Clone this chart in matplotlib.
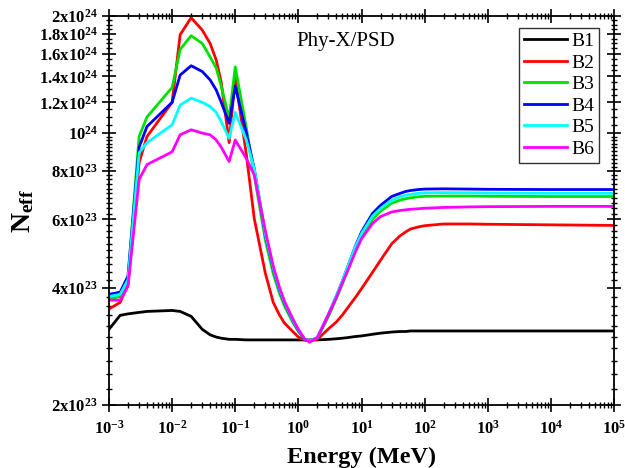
import matplotlib
matplotlib.use("Agg")
import matplotlib.pyplot as plt
from matplotlib.ticker import FixedLocator, NullFormatter, LogLocator
import numpy as np

plt.rcParams['font.family'] = ['Liberation Serif', 'DejaVu Serif']
plt.rcParams['mathtext.fontset'] = 'custom'
plt.rcParams['mathtext.rm'] = 'Liberation Serif'
plt.rcParams['mathtext.bf'] = 'Liberation Serif:bold'
plt.rcParams['mathtext.it'] = 'Liberation Serif:italic'

# Energy grid (MeV)
energy = [1e-3, 1.5e-3, 2e-3, 3e-3, 4e-3, 1e-2, 1.34e-2, 2e-2, 3e-2, 4e-2, 5e-2, 6e-2, 8e-2,
          0.1, 0.15, 0.2, 0.3, 0.4, 0.5, 0.6, 0.8, 1.0, 1.25, 1.5, 2, 3, 4, 5, 6, 8, 10,
          15, 20, 30, 40, 50, 60, 80, 100, 200, 500, 1e3, 1e4, 1e5]

# Effective electron number values (x 1e23)
B1 = [3.13, 3.40, 3.43, 3.46, 3.48, 3.50, 3.48, 3.38, 3.13, 3.03, 2.99, 2.97, 2.95,
      2.95, 2.94, 2.94, 2.94, 2.94, 2.94, 2.94, 2.94, 2.94, 2.94, 2.94, 2.94, 2.95, 2.96, 2.97, 2.98, 3.00, 3.01,
      3.04, 3.06, 3.08, 3.09, 3.09, 3.10, 3.10, 3.10, 3.10, 3.10, 3.10, 3.10, 3.10]
B2 = [3.53, 3.67, 4.08, 8.4, 9.8, 12.0, 17.9, 19.8, 18.4, 17.0, 15.4, 13.5, 9.45,
      13.9, 8.8, 6.03, 4.36, 3.67, 3.41, 3.25, 3.10, 2.99, 2.94, 2.92, 2.95, 3.14, 3.27, 3.41, 3.55, 3.78, 3.98,
      4.39, 4.71, 5.19, 5.43, 5.57, 5.67, 5.74, 5.78, 5.84, 5.84, 5.83, 5.81, 5.79]
B3 = [3.75, 3.80, 4.25, 9.8, 11.0, 13.1, 16.4, 17.8, 17.0, 15.7, 14.7, 13.2, 10.9,
      14.8, 10.3, 7.8, 5.3, 4.35, 3.88, 3.60, 3.28, 3.09, 2.95, 2.92, 2.97, 3.38, 3.76, 4.10, 4.42, 4.98, 5.40,
      6.00, 6.30, 6.60, 6.72, 6.78, 6.82, 6.86, 6.88, 6.89, 6.89, 6.88, 6.87, 6.87]
B4 = [3.85, 3.90, 4.29, 9.2, 10.4, 12.0, 14.1, 14.9, 14.4, 13.7, 12.9, 12.0, 10.6,
      13.2, 10.0, 8.1, 5.47, 4.47, 3.96, 3.66, 3.32, 3.11, 2.95, 2.92, 2.98, 3.42, 3.81, 4.17, 4.52, 5.12, 5.57,
      6.22, 6.52, 6.87, 6.99, 7.08, 7.12, 7.16, 7.18, 7.19, 7.18, 7.17, 7.16, 7.16]
B5 = [3.80, 3.85, 4.20, 8.9, 9.45, 10.5, 11.8, 12.3, 12.0, 11.7, 11.3, 10.7, 9.7,
      11.3, 9.6, 8.1, 5.5, 4.5, 3.98, 3.68, 3.33, 3.12, 2.96, 2.92, 2.98, 3.43, 3.82, 4.18, 4.52, 5.10, 5.52,
      6.12, 6.40, 6.72, 6.85, 6.92, 6.96, 7.00, 7.02, 7.03, 7.02, 7.01, 7.00, 7.00]
B6 = [3.72, 3.72, 4.04, 7.6, 8.3, 8.95, 9.9, 10.2, 10.0, 9.9, 9.6, 9.2, 8.45,
      9.6, 8.6, 7.8, 5.6, 4.55, 4.02, 3.70, 3.35, 3.13, 2.96, 2.90, 2.98, 3.42, 3.78, 4.13, 4.42, 4.95, 5.35,
      5.86, 6.10, 6.27, 6.32, 6.35, 6.37, 6.39, 6.41, 6.44, 6.46, 6.47, 6.48, 6.48]

series = [("B1", B1, "#000000"), ("B2", B2, "#ff0000"), ("B3", B3, "#00e000"),
          ("B4", B4, "#0000ff"), ("B5", B5, "#00ffff"), ("B6", B6, "#ff00ff")]

ytick_vals = [2e23, 4e23, 6e23, 8e23, 1e24, 1.2e24, 1.4e24, 1.6e24, 1.8e24, 2e24]
ytick_labels = [r'$\mathbf{2x10^{23}}$', r'$\mathbf{4x10^{23}}$', r'$\mathbf{6x10^{23}}$',
                r'$\mathbf{8x10^{23}}$', r'$\mathbf{10^{24}}$', r'$\mathbf{1.2x10^{24}}$',
                r'$\mathbf{1.4x10^{24}}$', r'$\mathbf{1.6x10^{24}}$', r'$\mathbf{1.8x10^{24}}$',
                r'$\mathbf{2x10^{24}}$']
xtick_vals = [1e-3, 1e-2, 1e-1, 1e0, 1e1, 1e2, 1e3, 1e4, 1e5]
xtick_labels = [r'$\mathbf{10^{-3}}$', r'$\mathbf{10^{-2}}$', r'$\mathbf{10^{-1}}$', r'$\mathbf{10^{0}}$',
                r'$\mathbf{10^{1}}$', r'$\mathbf{10^{2}}$', r'$\mathbf{10^{3}}$', r'$\mathbf{10^{4}}$',
                r'$\mathbf{10^{5}}$']

fig = plt.figure(figsize=(6.25, 4.68), dpi=100)
ax = fig.add_axes([109/625, 1-405/468, 505/625, 389/468])

for name, vals, col in series:
    ax.plot(energy, np.array(vals) * 1e23, color=col, lw=2.0, label=name)

ax.set_xscale('log')
ax.set_yscale('log')
ax.set_xlim(1e-3, 1e5)
ax.set_ylim(2e23, 2e24)

ax.xaxis.set_major_locator(FixedLocator(xtick_vals))
ax.set_xticklabels(xtick_labels)
ax.xaxis.set_minor_locator(LogLocator(base=10, subs=np.arange(2, 10), numticks=100))
ax.xaxis.set_minor_formatter(NullFormatter())

ax.yaxis.set_major_locator(FixedLocator(ytick_vals))
ax.set_yticklabels(ytick_labels)
minor_y = list(np.arange(2.2e23, 1e24, 0.2e23)) + list(np.arange(1.05e24, 2e24, 0.05e24))
ax.yaxis.set_minor_locator(FixedLocator(minor_y))
ax.yaxis.set_minor_formatter(NullFormatter())

ax.tick_params(axis='both', which='major', direction='inout', length=10, width=1.2,
               top=True, right=True, labelsize=12, pad=3)
ax.tick_params(axis='both', which='minor', direction='inout', length=5, width=1.0,
               top=True, right=True)
ax.tick_params(axis='x', which='major', pad=6)
for sp in ax.spines.values():
    sp.set_linewidth(1.3)

ax.set_xlabel('Energy (MeV)', fontsize=17.5, fontweight='bold', labelpad=6)
ax.set_ylabel(r'$\mathbf{N_{eff}}$', fontsize=20, labelpad=2)

ax.text(0.372, 0.935, 'Phy-X/PSD', transform=ax.transAxes, fontsize=15, ha='left', va='center')

leg = ax.legend(loc='upper right', bbox_to_anchor=(0.97, 0.97), borderaxespad=0,
                fontsize=14, frameon=True, fancybox=False, edgecolor='black',
                handlelength=2.2, labelspacing=0.2, handletextpad=0.2, borderpad=0.25)
leg.get_frame().set_linewidth(1.0)

fig.savefig('out.png', dpi=100)
